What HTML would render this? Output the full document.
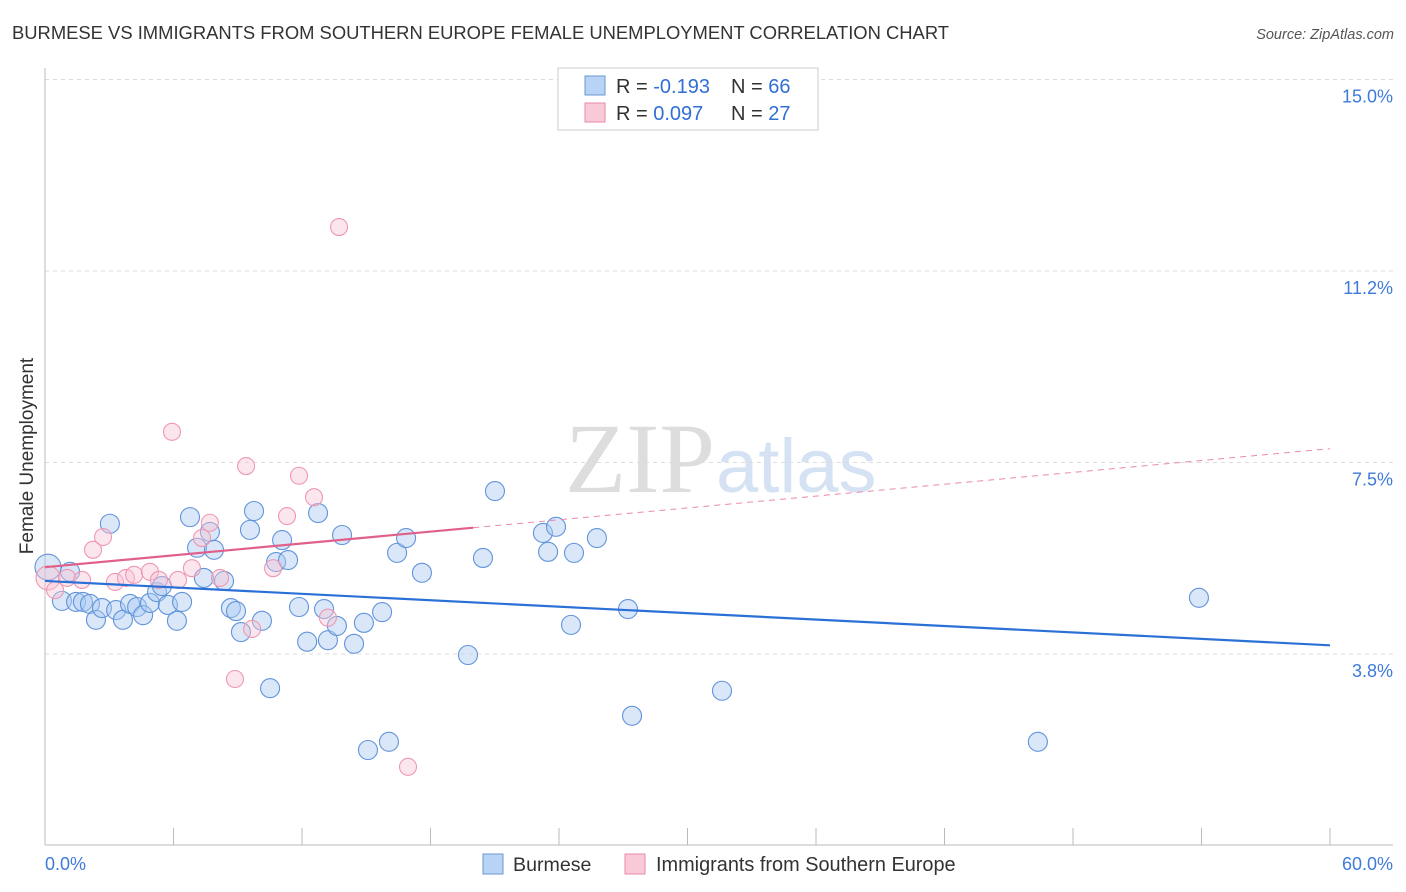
<!DOCTYPE html>
<html><head><meta charset="utf-8"><style>
body{margin:0;background:#fff;font-family:"Liberation Sans",sans-serif;}
svg{display:block}
</style></head><body>
<svg id="chart" width="1406" height="892" xmlns="http://www.w3.org/2000/svg">
<text x="12" y="39" font-size="18.4" fill="#333">BURMESE VS IMMIGRANTS FROM SOUTHERN EUROPE FEMALE UNEMPLOYMENT CORRELATION CHART</text>
<text x="1394" y="39" font-size="14.5" fill="#555" font-style="italic" text-anchor="end">Source: ZipAtlas.com</text>
<text x="33" y="456" font-size="19" fill="#333" text-anchor="middle" transform="rotate(-90 33 456)">Female Unemployment</text>
<text x="715" y="492" font-size="100" fill="#ddd" text-anchor="end" font-family="Liberation Serif,serif">ZIP</text>
<text x="716" y="492" font-size="76" fill="#d4e2f3">atlas</text>
<g id="grid"></g><g id="axes"></g><g id="pts"></g><g id="trend"></g>
<g>
<rect x="558" y="68" width="260" height="62" fill="#fff" stroke="#ccc"/>
<rect x="585" y="76" width="20" height="19" fill="#b8d3f5" stroke="#6a9ad8"/>
<rect x="585" y="103" width="20" height="19" fill="#f9c9d8" stroke="#e88aa8"/>
<text x="616" y="93" font-size="20" fill="#333">R = <tspan fill="#2f6fd6">-0.193</tspan></text>
<text x="731" y="93" font-size="20" fill="#333">N = <tspan fill="#2f6fd6">66</tspan></text>
<text x="616" y="120" font-size="20" fill="#333">R = <tspan fill="#2f6fd6"> 0.097</tspan></text>
<text x="731" y="120" font-size="20" fill="#333">N = <tspan fill="#2f6fd6">27</tspan></text>
</g>
<g>
<rect x="483" y="854" width="20" height="20" fill="#b8d3f5" stroke="#6a9ad8"/>
<text x="513" y="871" font-size="19.6" fill="#333">Burmese</text>
<rect x="625" y="854" width="20" height="20" fill="#f9c9d8" stroke="#e88aa8"/>
<text x="656" y="871" font-size="19.9" fill="#333">Immigrants from Southern Europe</text>
</g>
<text x="45" y="870" font-size="18" fill="#3d7bd9">0.0%</text>
<text x="1393" y="870" font-size="18" fill="#3d7bd9" text-anchor="end">60.0%</text>
</svg>
<script>
const yTicks=[15.0,11.25,7.5,3.75];
const yTickLabels=["15.0%","11.2%","7.5%","3.8%"];
const xTicks=[0,6,12,18,24,30,36,42,48,54,60];
const blueX=[0.14,0.79,1.17,1.45,1.77,2.10,2.38,2.66,3.03,3.32,3.64,3.97,4.30,4.58,4.90,5.23,5.46,5.74,6.16,6.40,6.77,7.10,7.42,7.70,7.89,8.36,8.68,8.92,9.15,9.57,9.76,10.13,10.51,10.79,11.07,11.35,11.86,12.24,12.75,13.03,13.21,13.63,13.87,14.43,14.89,15.08,15.74,16.06,16.44,16.86,17.60,19.75,20.45,21.01,23.25,23.49,23.86,24.56,24.70,25.77,27.22,27.41,31.61,46.36,53.88];
const blueY=[5.45,4.79,5.36,4.77,4.77,4.73,4.42,4.65,6.30,4.61,4.42,4.73,4.67,4.51,4.75,4.96,5.08,4.71,4.40,4.77,6.43,5.83,5.24,6.14,5.79,5.18,4.65,4.59,4.18,6.18,6.55,4.40,3.08,5.55,5.98,5.59,4.67,3.99,6.51,4.63,4.02,4.30,6.08,3.95,4.36,1.87,4.57,2.03,5.73,6.02,5.34,3.73,5.63,6.94,6.12,5.75,6.24,4.32,5.73,6.02,4.63,2.54,3.03,2.03,4.85];
const pinkX=[0.14,0.47,1.03,1.73,2.24,2.71,3.27,3.78,4.16,4.90,5.32,5.93,6.21,6.86,7.33,7.70,8.17,8.87,9.39,9.67,10.65,11.30,11.86,12.56,13.21,13.73,16.95];
const pinkY=[5.24,5.00,5.24,5.20,5.79,6.04,5.16,5.24,5.30,5.36,5.20,8.10,5.20,5.43,6.02,6.32,5.24,3.26,7.43,4.24,5.43,6.45,7.24,6.82,4.46,12.11,1.54];
const blueTrend=[5.18,3.92];
const pinkTrend=[5.45,7.77];
const pinkSolidEnd=20;
const NS="http://www.w3.org/2000/svg";
const X=p=>45+p/60*1285, Y=v=>845.5-v*51.07;
function mk(t,a,parent){const e=document.createElementNS(NS,t);for(const k in a)e.setAttribute(k,a[k]);document.getElementById(parent).appendChild(e);return e;}
yTicks.forEach((v,i)=>{
 const l=mk('line',{x1:45,x2:1393,y1:Y(v),y2:Y(v),stroke:'#ddd','stroke-dasharray':'4 4'},'grid');
 
 
 const t=mk('text',{x:1393,y:Y(v)+23,'font-size':18,fill:'#3d7bd9','text-anchor':'end'},'grid');
 t.textContent=yTickLabels[i];
 
 
});
let ax=mk('line',{x1:45,x2:45,y1:68,y2:845,stroke:'#bbb'},'axes');


ax=mk('line',{x1:45,x2:1393,y1:845,y2:845,stroke:'#bbb'},'axes');


xTicks.forEach(p=>{const t=mk('line',{x1:X(p),x2:X(p),y1:828,y2:845,stroke:'#bbb'},'axes');
 
 });
blueX.forEach((p,i)=>{const c=mk('circle',{cx:X(p),cy:Y(blueY[i]),r:i==0?13:9.5,fill:'rgba(170,202,242,0.45)',stroke:'#6294da','stroke-width':1.1},'pts');
 
 });
pinkX.forEach((p,i)=>{const c=mk('circle',{cx:X(p),cy:Y(pinkY[i]),r:i==0?12:8.5,fill:'rgba(248,195,212,0.42)',stroke:'#ee98b4','stroke-width':1.1},'pts');
 
 });
const pv=p=>pinkTrend[0]+(pinkTrend[1]-pinkTrend[0])*p/60;
let l=mk('line',{x1:X(0),y1:Y(blueTrend[0]),x2:X(60),y2:Y(blueTrend[1]),stroke:'#2a70d6','stroke-width':2.2},'trend');


l=mk('line',{x1:X(0),y1:Y(pv(0)),x2:X(pinkSolidEnd),y2:Y(pv(pinkSolidEnd)),stroke:'#e0608a','stroke-width':2.2},'trend');


l=mk('line',{x1:X(pinkSolidEnd),y1:Y(pv(pinkSolidEnd)),x2:X(60),y2:Y(pv(60)),stroke:'#e88aa8','stroke-width':1,'stroke-dasharray':'6 5'},'trend');


</script>
</body></html>
